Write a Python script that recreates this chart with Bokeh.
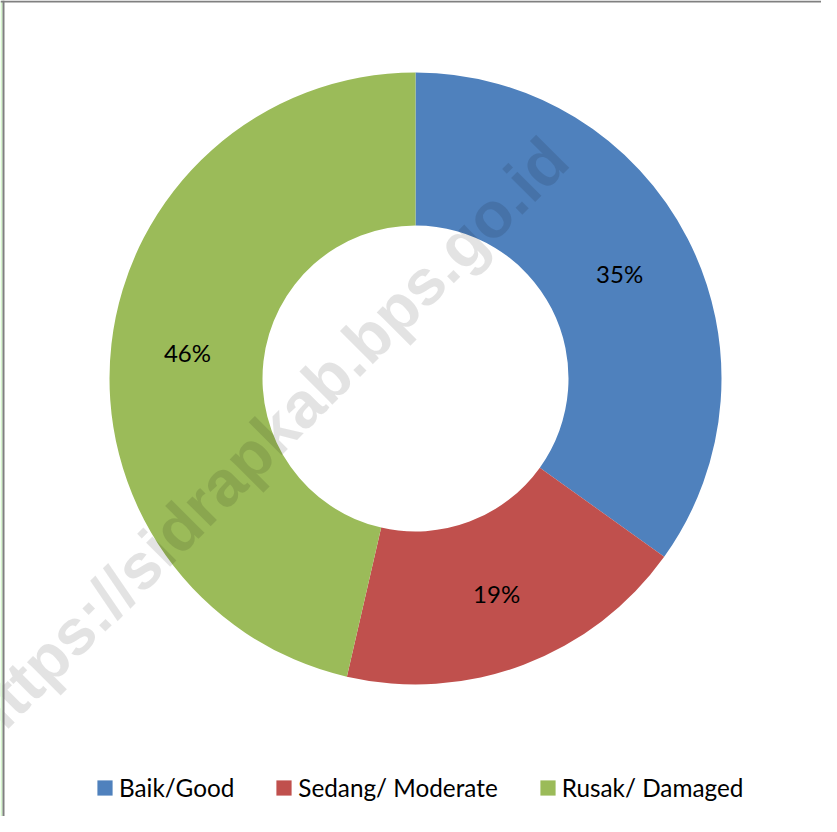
import math
from bokeh.plotting import figure
from bokeh.models import Range1d, Legend, LegendItem, Span, ColumnDataSource
from bokeh.core.properties import value
from bokeh.embed import file_html
from bokeh.resources import INLINE

# ---- data ----
categories = ["Baik/Good", "Sedang/ Moderate", "Rusak/ Damaged"]
values = [34.9, 18.7, 46.4]
colors = ["#4F81BD", "#C0504D", "#9BBB59"]
watermark = "https://sidrapkab.bps.go.id"

# ---- layout (page pixels) ----
PAGE_H = 832
W, H = 821, 816
cx, cy = 423, PAGE_H - 386
R_OUT, R_IN = 306, 153

total = sum(values)
fracs = [v / total for v in values]
cum = [0.0]
for f in fracs:
    cum.append(cum[-1] + f)
# clockwise from 12 o'clock
starts = [math.pi / 2 - 2 * math.pi * cum[i + 1] for i in range(len(values))]
ends = [math.pi / 2 - 2 * math.pi * cum[i] for i in range(len(values))]
mids = [math.pi / 2 - 2 * math.pi * (cum[i] + fracs[i] / 2) for i in range(len(values))]
r_mid = (R_OUT + R_IN) / 2
lab_x = [cx + r_mid * math.cos(a) for a in mids]
lab_y = [cy + r_mid * math.sin(a) for a in mids]
labels = [f"{round(f * 100)}%" for f in fracs]

src = ColumnDataSource(dict(cat=categories, val=values, color=colors,
                            start=starts, end=ends, lx=lab_x, ly=lab_y, lab=labels))

p = figure(width=W, height=H, output_backend="svg", toolbar_location=None,
           x_range=Range1d(8, 8 + W), y_range=Range1d(PAGE_H - 8 - H, PAGE_H - 8),
           min_border=0, outline_line_color=None)
p.axis.visible = False
p.grid.visible = False
p.background_fill_color = "white"
p.border_fill_color = "white"

r = p.annular_wedge(x=cx, y=cy, inner_radius=R_IN, outer_radius=R_OUT,
                    inner_radius_units="screen", outer_radius_units="screen",
                    start_angle="start", end_angle="end", fill_color="color",
                    line_color=None, source=src)

p.text(x="lx", y="ly", text="lab", source=src, text_align="center",
       text_baseline="middle", text_font=value("Lato"), text_font_size="24px",
       text_color="black")

# watermark
p.text(x=[273], y=[PAGE_H - 448], text=[watermark], angle=math.pi / 4,
       text_align="center", text_baseline="alphabetic",
       text_font=value("Liberation Sans"), text_font_style="bold",
       text_font_size="64.5px", text_color="black", text_alpha=0.11)

# chart frame edges
p.add_layout(Span(location=9, dimension="height", line_color="#d4f5cc", line_width=2))
p.add_layout(Span(location=11, dimension="height", line_color="#808080", line_width=2))
p.add_layout(Span(location=PAGE_H - 9, dimension="width", line_color="#808080", line_width=2))

items = [LegendItem(label=c, renderers=[r], index=i) for i, c in enumerate(categories)]
legend = Legend(items=items, orientation="horizontal", location=(95, 14.5),
                padding=0, margin=0, spacing=40, label_standoff=5,
                glyph_width=19, glyph_height=19,
                label_text_font="Lato", label_text_font_size="24.3px",
                label_text_color="black",
                border_line_color=None, background_fill_alpha=0)
p.add_layout(legend, "center")

open("out.html", "w").write(file_html(p, INLINE))
